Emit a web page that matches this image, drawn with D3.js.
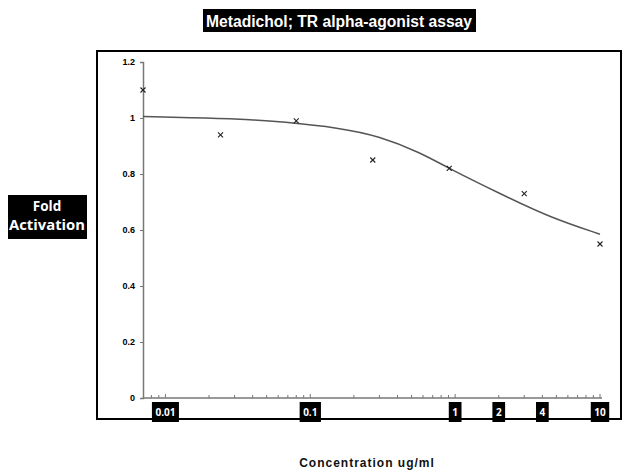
<!DOCTYPE html>
<html><head><meta charset="utf-8">
<script src="https://cdn.jsdelivr.net/npm/d3@7"></script>
<style>body{margin:0;background:#fff}svg{display:block}</style>
</head><body>
<script>
const title = "Metadichol; TR alpha-agonist assay";
const yLabelLines = ["Fold", "Activation"];
const xLabel = "Concentration ug/ml";
const concentrations = [0.007, 0.024, 0.08, 0.27, 0.91, 3, 10];
const foldActivation = [1.10, 0.94, 0.99, 0.85, 0.82, 0.73, 0.55];
const curveX = [0.007, 0.02, 0.04, 0.062, 0.16, 0.3, 0.574, 0.92, 2.04, 4.5, 10];
const curveY = [1.005, 1.0, 0.994, 0.987, 0.965, 0.935, 0.877, 0.818, 0.730, 0.645, 0.585];
const xTickValues = [0.01, 0.1, 1, 2, 4, 10];
const xTickLabels = ["0.01", "0.1", "1", "2", "4", "10"];
const yTickValues = [0, 0.2, 0.4, 0.6, 0.8, 1, 1.2];
const yTickLabels = ["0", "0.2", "0.4", "0.6", "0.8", "1", "1.2"];

const W = 622, H = 475;
const svg = d3.select("body").append("svg").attr("width", W).attr("height", H);

const x = d3.scaleLog().domain([0.007, 10]).range([143, 600]);
const y = d3.scaleLinear().domain([0, 1.2]).range([398, 62]);

// outer frame
svg.append("rect").attr("x", 97).attr("y", 51).attr("width", 524).attr("height", 368)
  .attr("fill", "none").attr("stroke", "#000").attr("stroke-width", 2);

// title
const tg = svg.append("g");
tg.append("rect").attr("x", 203).attr("y", 9).attr("width", 273).attr("height", 23).attr("fill", "#000");
tg.append("text").attr("x", 206).attr("y", 27)
  .attr("font-family", "Liberation Sans, Arial, sans-serif").attr("font-weight", "bold")
  .attr("font-size", 16).attr("textLength", 266).attr("lengthAdjust", "spacingAndGlyphs")
  .attr("fill", "#fff").text(title);

// y label
const yl = svg.append("g");
yl.append("rect").attr("x", 8).attr("y", 195).attr("width", 79).attr("height", 44).attr("fill", "#000");
yl.selectAll("text").data(yLabelLines).join("text").attr("text-anchor", "middle")
  .attr("font-family", "Open Sans, sans-serif").attr("font-weight", "bold").attr("font-size", 13.5)
  .attr("fill", "#fff").attr("x", 47).attr("y", (d, i) => 211 + i * 19)
  .each(function (d, i) { if (i === 1) d3.select(this).attr("textLength", 76).attr("lengthAdjust", "spacingAndGlyphs"); })
  .text(d => d);

// x label
svg.append("text").attr("x", 367).attr("y", 467).attr("text-anchor", "middle")
  .attr("font-family", "Liberation Sans, Arial, sans-serif").attr("font-weight", "bold")
  .attr("font-size", 12).attr("letter-spacing", 1).attr("fill", "#111").text(xLabel);

// y axis
const yAxis = d3.axisLeft(y).tickValues(yTickValues).tickFormat((d, i) => yTickLabels[i]).tickSize(3).tickPadding(5);
const yg = svg.append("g").attr("transform", "translate(143,0)").call(yAxis);
yg.select(".domain").attr("stroke", "#777").attr("stroke-width", 1.5);
yg.selectAll(".tick line").attr("stroke", "#777");
yg.selectAll(".tick text").attr("font-family", "Liberation Sans, Arial, sans-serif")
  .attr("font-weight", "bold").attr("font-size", 9).attr("fill", "#000");

// x axis: minor ticks inside
const minorTicks = x.ticks().filter(v => v >= 0.008);
const xg = svg.append("g").attr("transform", "translate(0,398)");
xg.append("line").attr("x1", x.range()[0]).attr("x2", x.range()[1] + 2).attr("y1", 0).attr("y2", 0)
  .attr("stroke", "#777").attr("stroke-width", 1.5);
xg.selectAll("line.minor").data(minorTicks).join("line").attr("class", "minor")
  .attr("x1", d => x(d)).attr("x2", d => x(d)).attr("y1", 0)
  .attr("y2", d => (Math.abs(Math.log10(d) - Math.round(Math.log10(d))) < 1e-6 ? -4 : -3))
  .attr("stroke", "#777").attr("stroke-width", 1);

// x tick labels in black boxes
const lab = svg.append("g").selectAll("g").data(xTickValues).join("g")
  .attr("transform", d => `translate(${x(d)},0)`);
lab.each(function (d, i) {
  const g = d3.select(this);
  const t = g.append("text").attr("x", 0).attr("y", 416).attr("text-anchor", "middle")
    .attr("font-family", "Open Sans, sans-serif").attr("font-weight", "bold").attr("font-size", 10)
    .attr("fill", "#fff").text(xTickLabels[i]);
  const w = t.node().getComputedTextLength();
  g.insert("rect", "text").attr("x", -w / 2 - 3.5).attr("y", 402).attr("width", w + 7).attr("height", 20).attr("fill", "#000");
});

// fitted curve
const line = d3.line().x(d => x(d[0])).y(d => y(d[1])).curve(d3.curveBasis);
svg.append("path").datum(curveX.map((v, i) => [v, curveY[i]])).attr("d", line)
  .attr("fill", "none").attr("stroke", "#555").attr("stroke-width", 1.5);

// data points as crosses
const s = 2.5;
svg.append("g").selectAll("path").data(concentrations.map((v, i) => [v, foldActivation[i]])).join("path")
  .attr("d", d => { const cx = x(d[0]), cy = y(d[1]);
    return `M${cx - s},${cy - s}L${cx + s},${cy + s}M${cx - s},${cy + s}L${cx + s},${cy - s}`; })
  .attr("stroke", "#222").attr("stroke-width", 1.1);
</script>
</body></html>
